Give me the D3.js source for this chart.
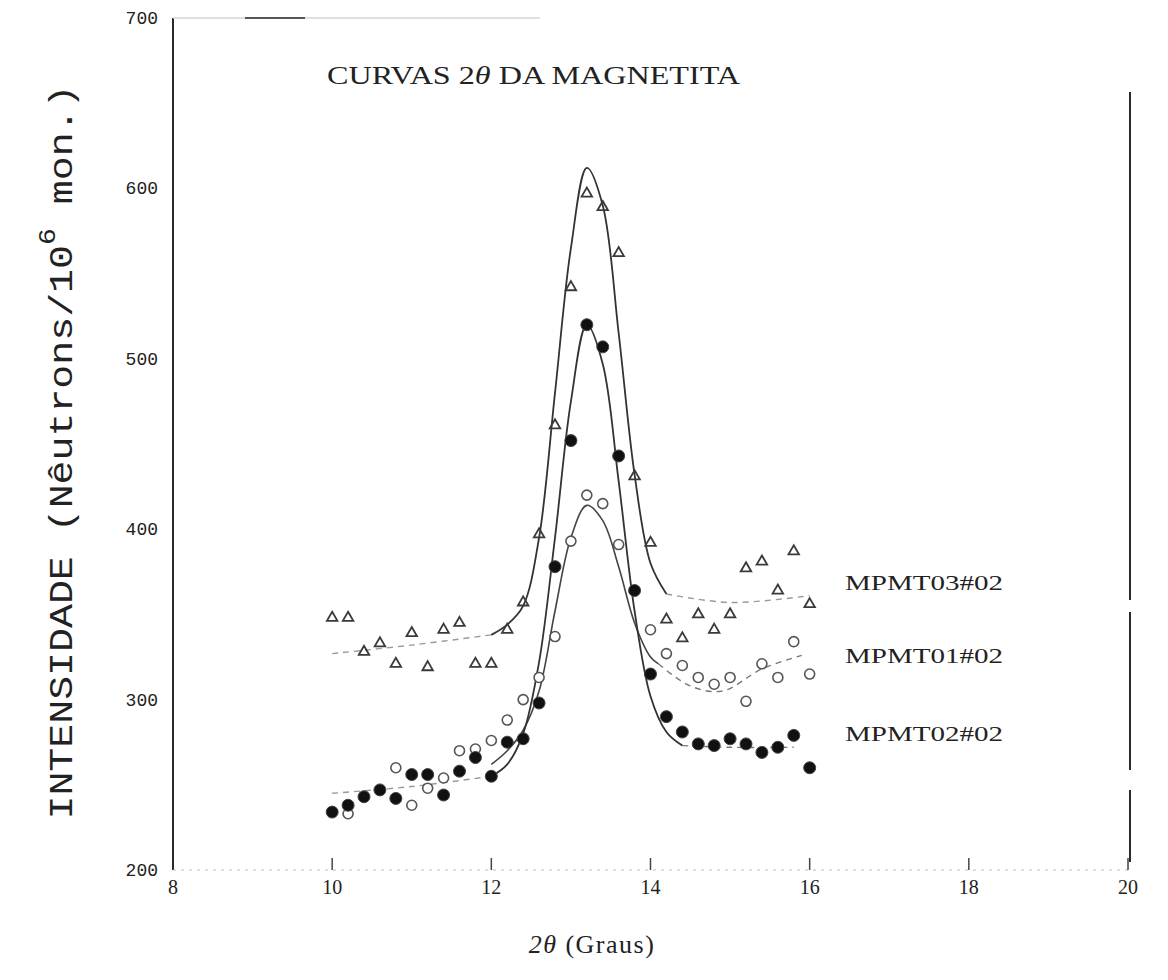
<!DOCTYPE html>
<html>
<head>
<meta charset="utf-8">
<script src="https://cdnjs.cloudflare.com/ajax/libs/d3/7.8.5/d3.min.js"></script>
<style>
  html, body { margin: 0; padding: 0; background: #fff; }
  svg { display: block; }
  text { font-family: "Liberation Serif", "DejaVu Serif", serif; fill: #222; }
</style>
</head>
<body>
<svg id="chart" width="1168" height="980"></svg>
<script>
// ---------- data ----------
const xTicks = [8, 10, 12, 14, 16, 18, 20];
const yTicks = [200, 300, 400, 500, 600, 700];
const angles = [10.0,10.2,10.4,10.6,10.8,11.0,11.2,11.4,11.6,11.8,12.0,12.2,12.4,12.6,12.8,13.0,
                13.2,13.4,13.6,13.8,14.0,14.2,14.4,14.6,14.8,15.0,15.2,15.4,15.6,15.8,16.0];

// MPMT03#02 (open triangles)
const mpmt03 = [348,348,328,333,321,339,319,341,345,321,321,341,357,397,461,542,
                597,589,562,431,392,347,336,350,341,350,377,381,364,387,356];
// MPMT01#02 (open circles); null = hidden under other marks
const mpmt01 = [null,233,null,null,260,238,248,254,270,271,276,288,300,313,337,393,
                420,415,391,null,341,327,320,313,309,313,299,321,313,334,315];
// MPMT02#02 (filled circles)
const mpmt02 = [234,238,243,247,242,256,256,244,258,266,255,275,277,298,378,452,
                520,507,443,364,315,290,281,274,273,277,274,269,272,279,260];

// traced curves: solid part and faint dashed baselines
const curve03 = [[12.0,338],[12.2,344],[12.4,355],[12.6,395],[12.8,480],[13.0,565],[13.2,612],
                 [13.4,590],[13.6,515],[13.8,432],[14.0,380],[14.2,362]];
const base03L = [[10.0,327],[11.0,332],[12.0,338]];
const base03R = [[14.2,362],[15.0,357],[16.0,361]];

const curve02 = [[12.0,255],[12.2,262],[12.4,280],[12.6,322],[12.8,395],[13.0,475],[13.2,520],
                 [13.4,497],[13.6,428],[13.8,352],[14.0,302],[14.2,281],[14.4,273]];
const base02L = [[10.0,245],[11.0,249],[12.0,255]];
const base02R = [[14.4,273],[15.0,272],[15.8,272]];

const curve01 = [[12.0,262],[12.2,270],[12.4,282],[12.6,305],[12.8,352],[13.0,395],[13.2,414],
                 [13.4,405],[13.6,378],[13.8,345],[14.0,325],[14.1,321]];
const base01R = [[14.1,321],[14.5,308],[14.9,305],[15.4,318],[15.9,326]];

const seriesLabels = ["MPMT03#02", "MPMT01#02", "MPMT02#02"];

// ---------- drawing ----------
const svg = d3.select("#chart");
const x = d3.scaleLinear().domain([8, 20]).range([173, 1128]);
const y = d3.scaleLinear().domain([200, 700]).range([870, 18]);

const ink = "#2a2a2a";

// axes frame (scanned look: a few breaks in the verticals)
svg.append("line").attr("x1", x(8)).attr("x2", x(8)).attr("y1", y(700)).attr("y2", y(200))
  .attr("stroke", ink).attr("stroke-width", 2);
[[92, 600], [612, 770], [790, 862]].forEach(s => {
  svg.append("line").attr("x1", x(20)+2).attr("x2", x(20)+2).attr("y1", s[0]).attr("y2", s[1])
    .attr("stroke", ink).attr("stroke-width", 2);
});
svg.append("line").attr("x1", x(8)).attr("x2", 540).attr("y1", y(700)).attr("y2", y(700))
  .attr("stroke", "#d6d6d6").attr("stroke-width", 1.5);
svg.append("line").attr("x1", 245).attr("x2", 305).attr("y1", y(700)).attr("y2", y(700))
  .attr("stroke", "#555").attr("stroke-width", 2);
svg.append("line").attr("x1", x(8)).attr("x2", x(20)).attr("y1", y(200)).attr("y2", y(200))
  .attr("stroke", "#bbb").attr("stroke-width", 1).attr("stroke-dasharray", "3,5");

// bottom ticks
svg.append("g").selectAll("line").data(xTicks.slice(1)).join("line")
  .attr("x1", d => x(d)).attr("x2", d => x(d))
  .attr("y1", y(200)).attr("y2", y(200) - 12)
  .attr("stroke", "#444").attr("stroke-width", 1.5);

// tick labels
svg.append("g").selectAll("text").data(xTicks).join("text")
  .attr("x", d => x(d)).attr("y", 894)
  .attr("text-anchor", "middle").attr("font-size", 20)
  .text(d => d);
svg.append("g").selectAll("text").data(yTicks).join("text")
  .attr("x", 158).attr("y", d => y(d) + 6)
  .attr("text-anchor", "end").attr("font-size", 18)
  .style("font-family", "'Liberation Mono', monospace")
  .text(d => d);

// curves
const line = d3.line().x(d => x(d[0])).y(d => y(d[1])).curve(d3.curveCatmullRom.alpha(0.5));
function path(data, dashed, color, w) {
  svg.append("path").attr("d", line(data)).attr("fill", "none")
    .attr("stroke", color).attr("stroke-width", w)
    .attr("stroke-dasharray", dashed ? "6,5" : null);
}
path(base03L, true, "#9a9a9a", 1.4);
path(base03R, true, "#9a9a9a", 1.4);
path(base02L, true, "#9a9a9a", 1.4);
path(base02R, true, "#777", 1.4);
path(base01R, true, "#777", 1.4);
path(curve03, false, "#333", 1.8);
path(curve01, false, "#444", 1.6);
path(curve02, false, "#333", 1.8);

// markers
const tri = d3.symbol().type(d3.symbolTriangle).size(48);
svg.append("g").selectAll("path").data(angles.map((a, i) => [a, mpmt03[i]]))
  .join("path")
  .attr("transform", d => `translate(${x(d[0])},${y(d[1])})`)
  .attr("d", tri).attr("fill", "none").attr("stroke", "#3a3a3a").attr("stroke-width", 1.8);

svg.append("g").selectAll("circle")
  .data(angles.map((a, i) => [a, mpmt01[i]]).filter(d => d[1] !== null))
  .join("circle")
  .attr("cx", d => x(d[0])).attr("cy", d => y(d[1])).attr("r", 5)
  .attr("fill", "#fff").attr("stroke", "#555").attr("stroke-width", 1.6);

svg.append("g").selectAll("circle").data(angles.map((a, i) => [a, mpmt02[i]]))
  .join("circle")
  .attr("cx", d => x(d[0])).attr("cy", d => y(d[1])).attr("r", 6)
  .attr("fill", "#111").attr("stroke", "#444").attr("stroke-width", 1);

// series labels
svg.append("g").selectAll("text").data(seriesLabels).join("text")
  .attr("x", 845).attr("y", (d, i) => [590, 663, 741][i])
  .attr("font-size", 22).attr("textLength", 158).attr("lengthAdjust", "spacingAndGlyphs")
  .text(d => d);

// title
const title = svg.append("text").attr("x", 327).attr("y", 84).attr("font-size", 26)
  .attr("textLength", 413).attr("lengthAdjust", "spacingAndGlyphs");
title.append("tspan").text("CURVAS 2");
title.append("tspan").attr("font-style", "italic").text("θ");
title.append("tspan").text(" DA MAGNETITA");

// x axis title
const xt = svg.append("text").attr("x", 592).attr("y", 953).attr("text-anchor", "middle")
  .attr("font-size", 26).attr("letter-spacing", 1.5);
xt.append("tspan").attr("font-style", "italic").text("2θ");
xt.append("tspan").text("  (Graus)");

// y axis title
const yt = svg.append("text").attr("transform", "translate(72,452) rotate(-90)")
  .attr("text-anchor", "middle").attr("font-size", 34)
  .style("font-family", "'Liberation Mono', 'DejaVu Sans Mono', monospace")
  .attr("textLength", 735).attr("lengthAdjust", "spacingAndGlyphs");
yt.append("tspan").text("INTENSIDADE (Nêutrons/10");
yt.append("tspan").attr("dy", -17).attr("font-size", 24).text("6");
yt.append("tspan").attr("dy", 17).text(" mon.)");
</script>
</body>
</html>
